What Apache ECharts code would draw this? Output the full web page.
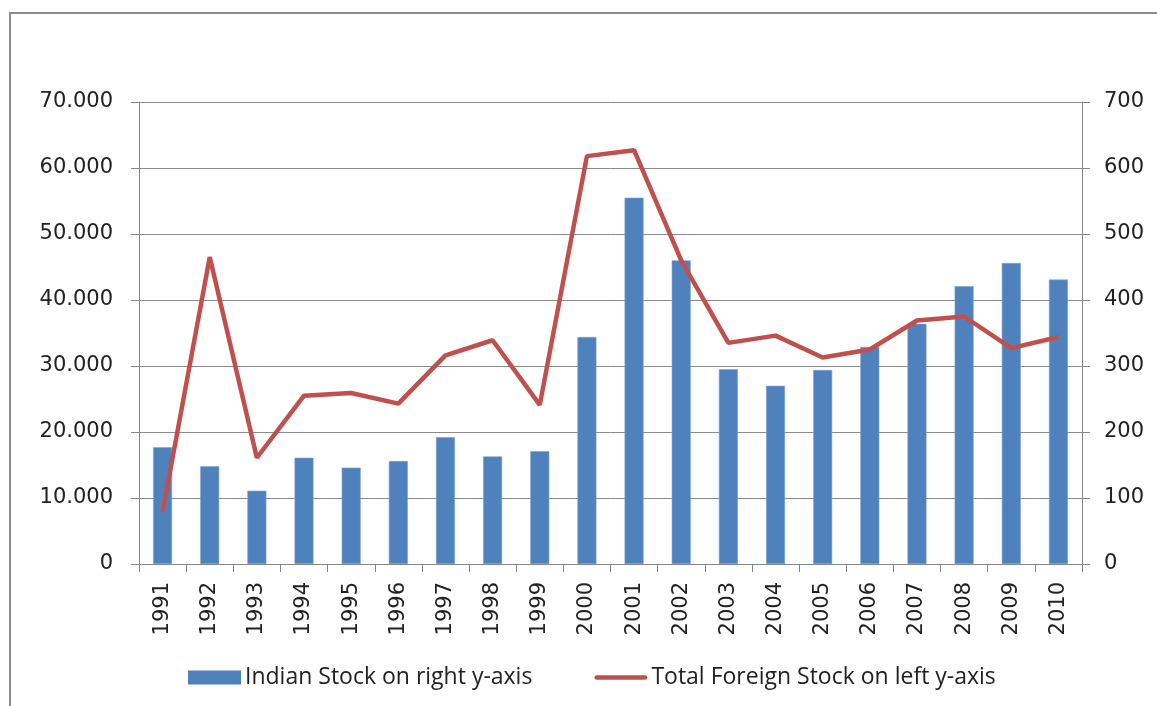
<!DOCTYPE html>
<html>
<head>
<meta charset="utf-8">
<script src="https://cdn.jsdelivr.net/npm/echarts@6/dist/echarts.min.js"></script>
<style>
  html, body { margin: 0; padding: 0; background: #fff; }
  .frame {
    position: absolute;
    left: 9px;
    top: 12px;
    width: 1200px;
    height: 760px;
    border-left: 2px solid #8c8c8c;
    border-top: 2px solid #8c8c8c;
  }
  #chart { position: absolute; left: 0; top: 0; width: 1157px; height: 706px; }
</style>
</head>
<body>
<div class="frame"></div>
<div id="chart"></div>
<script>
// years on the x axis
var years = ["1991", "1992", "1993", "1994", "1995", "1996", "1997", "1998", "1999", "2000",
             "2001", "2002", "2003", "2004", "2005", "2006", "2007", "2008", "2009", "2010"];

// bars, read on the right axis
var indianStock = [177, 148, 111, 161, 146, 156, 192, 163, 171, 344,
                   555, 460, 295, 270, 294, 329, 364, 421, 456, 431];

// line, read on the left axis
var foreignStock = [7900, 46500, 16100, 25500, 25900, 24300, 31600, 33900, 24100, 61800,
                    62700, 46000, 33500, 34600, 31300, 32500, 36900, 37500, 32700, 34400];

var leftTicks = { min: 0, max: 70000, step: 10000 };
var rightTicks = { min: 0, max: 700, step: 100 };

var seriesNames = ["Indian Stock on right y-axis", "Total Foreign Stock on left y-axis"];

function dotThousands(v) {
  return String(Math.round(v)).replace(/\B(?=(\d{3})+(?!\d))/g, ".");
}

var axisGray = "#868686";
var font = "DejaVu Sans";

var myChart = echarts.init(document.getElementById("chart"));
myChart.setOption({
  animation: false,
  backgroundColor: "transparent",
  grid: { left: 139, right: 75, top: 102, bottom: 142 },
  legend: {
    left: 183,
    top: 661,
    itemWidth: 53,
    itemHeight: 14,
    itemGap: 62,
    textStyle: { fontFamily: "Open Sans", fontSize: 23, color: "#222", padding: [0, 0, 0, -1] },
    data: [
      { name: seriesNames[0], icon: "rect", itemStyle: { borderWidth: 0 } },
      { name: seriesNames[1], icon: "path://M2,0 L53,0 A2.5,2.5 0 0 1 53,5 L2,5 A2.5,2.5 0 0 1 2,0 Z" }
    ]
  },
  xAxis: {
    type: "category",
    data: years,
    axisLine: { lineStyle: { color: axisGray, width: 1 } },
    axisTick: { show: true, length: 8, lineStyle: { color: axisGray } },
    axisLabel: { rotate: 90, margin: 18, fontFamily: font, fontSize: 21, color: "#222" },
    splitLine: { show: false }
  },
  yAxis: [
    {
      type: "value",
      position: "left",
      min: leftTicks.min,
      max: leftTicks.max,
      interval: leftTicks.step,
      axisLine: { show: true, lineStyle: { color: axisGray, width: 1 } },
      axisTick: { show: true, length: 8, lineStyle: { color: axisGray } },
      axisLabel: {
        margin: 26,
        fontFamily: font,
        fontSize: 21,
        color: "#222",
        formatter: function (v) { return dotThousands(v); }
      },
      splitLine: { show: true, lineStyle: { color: "#8c8c8c", width: 1 } }
    },
    {
      type: "value",
      position: "right",
      min: rightTicks.min,
      max: rightTicks.max,
      interval: rightTicks.step,
      axisLine: { show: true, lineStyle: { color: axisGray, width: 1 } },
      axisTick: { show: true, length: 8, lineStyle: { color: axisGray } },
      axisLabel: { margin: 22, fontFamily: font, fontSize: 21, color: "#222" },
      splitLine: { show: false }
    }
  ],
  series: [
    {
      name: seriesNames[0],
      type: "bar",
      yAxisIndex: 1,
      data: indianStock,
      barWidth: 19,
      itemStyle: { color: "#4F81BD", borderColor: "#7fa3d0", borderWidth: 0.6 }
    },
    {
      name: seriesNames[1],
      type: "line",
      yAxisIndex: 0,
      data: foreignStock,
      symbol: "none",
      lineStyle: { color: "#C0504D", width: 4.5 },
      itemStyle: { color: "#C0504D" },
      z: 5
    }
  ]
});
</script>
</body>
</html>
